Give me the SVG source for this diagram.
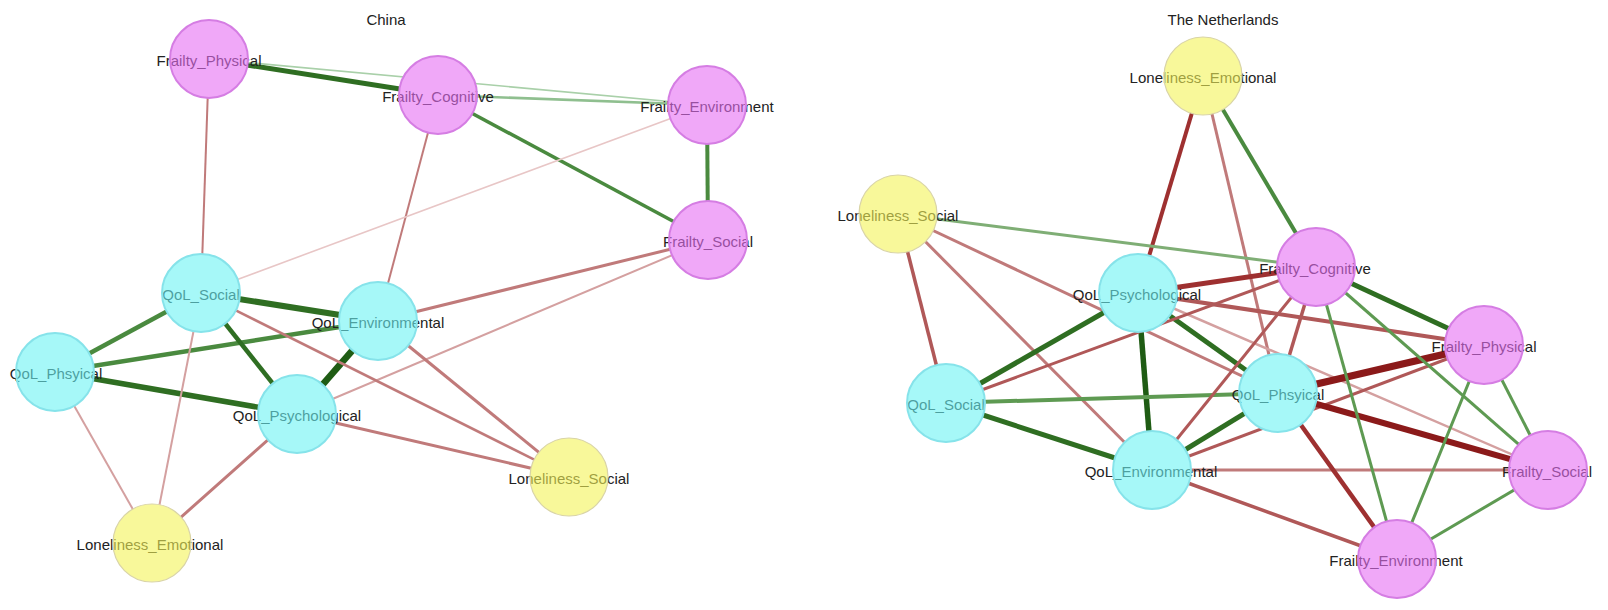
<svg xmlns="http://www.w3.org/2000/svg" width="1608" height="610" viewBox="0 0 1608 610">
<style>
text{font-family:"Liberation Sans",Arial,sans-serif;font-size:15px;fill:#222;text-anchor:middle}
.title{font-size:15px}
.bg{fill:#fff;stroke:none}
.pk{fill:#e66ef3;fill-opacity:.6;stroke:#d57de3;stroke-width:2}
.cy{fill:#6bf3f3;fill-opacity:.6;stroke:#86e3ea;stroke-width:2}
.yl{fill:#f3f357;fill-opacity:.6;stroke:#d9d4a6;stroke-width:1.2}
line{stroke-linecap:butt;fill:none}
.gA{stroke:#1f5c14}.gB{stroke:#2f6e22}.gC{stroke:#4a8a3f}.gD{stroke:#5e9a52}.gE{stroke:#8fbf8f}.gF{stroke:#a9d0a9}
.rA{stroke:#8b1a1a}.rB{stroke:#9e3030}.rC{stroke:#b05858}.rD{stroke:#c07a7a}.rE{stroke:#d4a0a0}.rF{stroke:#e8c6c6}
</style>
<rect width="1608" height="610" fill="#fff"/>
<text class="title" x="386" y="25">China</text>
<text class="title" x="1223" y="25">The Netherlands</text>
<g id="connectors">
<!-- China -->
<line class="gB" stroke-width="5" x1="209" y1="59" x2="438" y2="95"/>
<line class="gF" stroke-width="1.6" x1="209" y1="59" x2="707" y2="105"/>
<line class="gE" stroke-width="2.6" x1="438" y1="95" x2="707" y2="105"/>
<line class="gC" stroke-width="3.5" x1="438" y1="95" x2="708" y2="240"/>
<line class="gC" stroke-width="4" x1="707" y1="105" x2="708" y2="240"/>
<line class="rD" stroke-width="2" x1="209" y1="59" x2="201" y2="293"/>
<line class="rD" stroke-width="2" x1="438" y1="95" x2="378" y2="321"/>
<line class="rF" stroke-width="1.6" x1="707" y1="105" x2="201" y2="293"/>
<line class="rD" stroke-width="3" x1="708" y1="240" x2="378" y2="321"/>
<line class="rE" stroke-width="2" x1="708" y1="240" x2="297" y2="414"/>
<line class="gB" stroke-width="6" x1="201" y1="293" x2="378" y2="321"/>
<line class="gC" stroke-width="4.5" x1="201" y1="293" x2="55" y2="372"/>
<line class="gC" stroke-width="4.5" x1="55" y1="372" x2="378" y2="321"/>
<line class="gB" stroke-width="5.5" x1="55" y1="372" x2="297" y2="414"/>
<line class="gB" stroke-width="4.5" x1="201" y1="293" x2="297" y2="414"/>
<line class="gA" stroke-width="6.5" x1="378" y1="321" x2="297" y2="414"/>
<line class="rD" stroke-width="2.5" x1="201" y1="293" x2="569" y2="477"/>
<line class="rD" stroke-width="3" x1="378" y1="321" x2="569" y2="477"/>
<line class="rD" stroke-width="3" x1="297" y1="414" x2="569" y2="477"/>
<line class="rE" stroke-width="2" x1="55" y1="372" x2="152" y2="543"/>
<line class="rE" stroke-width="2" x1="201" y1="293" x2="152" y2="543"/>
<line class="rD" stroke-width="3" x1="297" y1="414" x2="152" y2="543"/>
<!-- Netherlands -->
<line class="rB" stroke-width="4" x1="1203" y1="76" x2="1138" y2="293"/>
<line class="rD" stroke-width="3" x1="1203" y1="76" x2="1278" y2="393"/>
<line class="gC" stroke-width="4" x1="1203" y1="76" x2="1316" y2="267"/>
<line class="gD" stroke-width="3" x1="898" y1="214" x2="1316" y2="267" style="stroke:#7fae75"/>
<line class="rC" stroke-width="3.5" x1="898" y1="214" x2="946" y2="403"/>
<line class="rD" stroke-width="3" x1="898" y1="214" x2="1152" y2="470"/>
<line class="rD" stroke-width="3" x1="898" y1="214" x2="1278" y2="393"/>
<line class="rB" stroke-width="5" x1="1138" y1="293" x2="1316" y2="267"/>
<line class="rC" stroke-width="4" x1="1138" y1="293" x2="1484" y2="345"/>
<line class="gB" stroke-width="5" x1="1138" y1="293" x2="946" y2="403"/>
<line class="gA" stroke-width="5.5" x1="1138" y1="293" x2="1152" y2="470"/>
<line class="gB" stroke-width="5" x1="1138" y1="293" x2="1278" y2="393"/>
<line class="rE" stroke-width="2.5" x1="1138" y1="293" x2="1548" y2="470"/>
<line class="gD" stroke-width="4" x1="946" y1="403" x2="1278" y2="393"/>
<line class="gB" stroke-width="5" x1="946" y1="403" x2="1152" y2="470"/>
<line class="rC" stroke-width="3" x1="946" y1="403" x2="1316" y2="267"/>
<line class="rC" stroke-width="3" x1="1152" y1="470" x2="1316" y2="267"/>
<line class="gB" stroke-width="5" x1="1152" y1="470" x2="1278" y2="393"/>
<line class="rC" stroke-width="3" x1="1152" y1="470" x2="1484" y2="345"/>
<line class="rD" stroke-width="3" x1="1152" y1="470" x2="1548" y2="470"/>
<line class="rC" stroke-width="3.5" x1="1152" y1="470" x2="1397" y2="559"/>
<line class="rA" stroke-width="7" x1="1278" y1="393" x2="1484" y2="345"/>
<line class="rA" stroke-width="6" x1="1278" y1="393" x2="1548" y2="470"/>
<line class="rB" stroke-width="4.5" x1="1278" y1="393" x2="1397" y2="559"/>
<line class="rC" stroke-width="3.5" x1="1278" y1="393" x2="1316" y2="267"/>
<line class="gB" stroke-width="5" x1="1316" y1="267" x2="1484" y2="345"/>
<line class="gD" stroke-width="3" x1="1316" y1="267" x2="1548" y2="470"/>
<line class="gD" stroke-width="3" x1="1316" y1="267" x2="1397" y2="559"/>
<line class="gD" stroke-width="3" x1="1484" y1="345" x2="1548" y2="470"/>
<line class="gD" stroke-width="3" x1="1484" y1="345" x2="1397" y2="559"/>
<line class="gD" stroke-width="3" x1="1548" y1="470" x2="1397" y2="559"/>
</g>
<!-- China nodes -->
<g id="cn-frailty-physical"><circle class="bg" cx="209" cy="59" r="39"/><text x="209" y="66">Frailty_Physical</text><circle class="pk" cx="209" cy="59" r="39"/></g>
<g id="cn-frailty-cognitive"><circle class="bg" cx="438" cy="95" r="39"/><text x="438" y="102">Frailty_Cognitive</text><circle class="pk" cx="438" cy="95" r="39"/></g>
<g id="cn-frailty-environment"><circle class="bg" cx="707" cy="105" r="39"/><text x="707" y="112">Frailty_Environment</text><circle class="pk" cx="707" cy="105" r="39"/></g>
<g id="cn-frailty-social"><circle class="bg" cx="708" cy="240" r="39"/><text x="708" y="247">Frailty_Social</text><circle class="pk" cx="708" cy="240" r="39"/></g>
<g id="cn-qol-social"><circle class="bg" cx="201" cy="293" r="39"/><text x="201" y="300">QoL_Social</text><circle class="cy" cx="201" cy="293" r="39"/></g>
<g id="cn-qol-environmental"><circle class="bg" cx="378" cy="321" r="39"/><text x="378" y="328">QoL_Environmental</text><circle class="cy" cx="378" cy="321" r="39"/></g>
<g id="cn-qol-physical"><circle class="bg" cx="55" cy="372" r="39"/><text x="56" y="379">QoL_Phsyical</text><circle class="cy" cx="55" cy="372" r="39"/></g>
<g id="cn-qol-psychological"><circle class="bg" cx="297" cy="414" r="39"/><text x="297" y="421">QoL_Psychological</text><circle class="cy" cx="297" cy="414" r="39"/></g>
<g id="cn-loneliness-social"><circle class="bg" cx="569" cy="477" r="39"/><text x="569" y="484">Loneliness_Social</text><circle class="yl" cx="569" cy="477" r="39"/></g>
<g id="cn-loneliness-emotional"><circle class="bg" cx="152" cy="543" r="39"/><text x="150" y="550">Loneliness_Emotional</text><circle class="yl" cx="152" cy="543" r="39"/></g>
<!-- Netherlands nodes -->
<g id="nl-loneliness-emotional"><circle class="bg" cx="1203" cy="76" r="39"/><text x="1203" y="83">Loneliness_Emotional</text><circle class="yl" cx="1203" cy="76" r="39"/></g>
<g id="nl-loneliness-social"><circle class="bg" cx="898" cy="214" r="39"/><text x="898" y="221">Loneliness_Social</text><circle class="yl" cx="898" cy="214" r="39"/></g>
<g id="nl-frailty-cognitive"><circle class="bg" cx="1316" cy="267" r="39"/><text x="1315" y="274">Frailty_Cognitive</text><circle class="pk" cx="1316" cy="267" r="39"/></g>
<g id="nl-qol-psychological"><circle class="bg" cx="1138" cy="293" r="39"/><text x="1137" y="300">QoL_Psychological</text><circle class="cy" cx="1138" cy="293" r="39"/></g>
<g id="nl-frailty-physical"><circle class="bg" cx="1484" cy="345" r="39"/><text x="1484" y="352">Frailty_Physical</text><circle class="pk" cx="1484" cy="345" r="39"/></g>
<g id="nl-qol-physical"><circle class="bg" cx="1278" cy="393" r="39"/><text x="1278" y="400">QoL_Phsyical</text><circle class="cy" cx="1278" cy="393" r="39"/></g>
<g id="nl-qol-social"><circle class="bg" cx="946" cy="403" r="39"/><text x="946" y="410">QoL_Social</text><circle class="cy" cx="946" cy="403" r="39"/></g>
<g id="nl-qol-environmental"><circle class="bg" cx="1152" cy="470" r="39"/><text x="1151" y="477">QoL_Environmental</text><circle class="cy" cx="1152" cy="470" r="39"/></g>
<g id="nl-frailty-social"><circle class="bg" cx="1548" cy="470" r="39"/><text x="1547" y="477">Frailty_Social</text><circle class="pk" cx="1548" cy="470" r="39"/></g>
<g id="nl-frailty-environment"><circle class="bg" cx="1397" cy="559" r="39"/><text x="1396" y="566">Frailty_Environment</text><circle class="pk" cx="1397" cy="559" r="39"/></g>
</svg>
